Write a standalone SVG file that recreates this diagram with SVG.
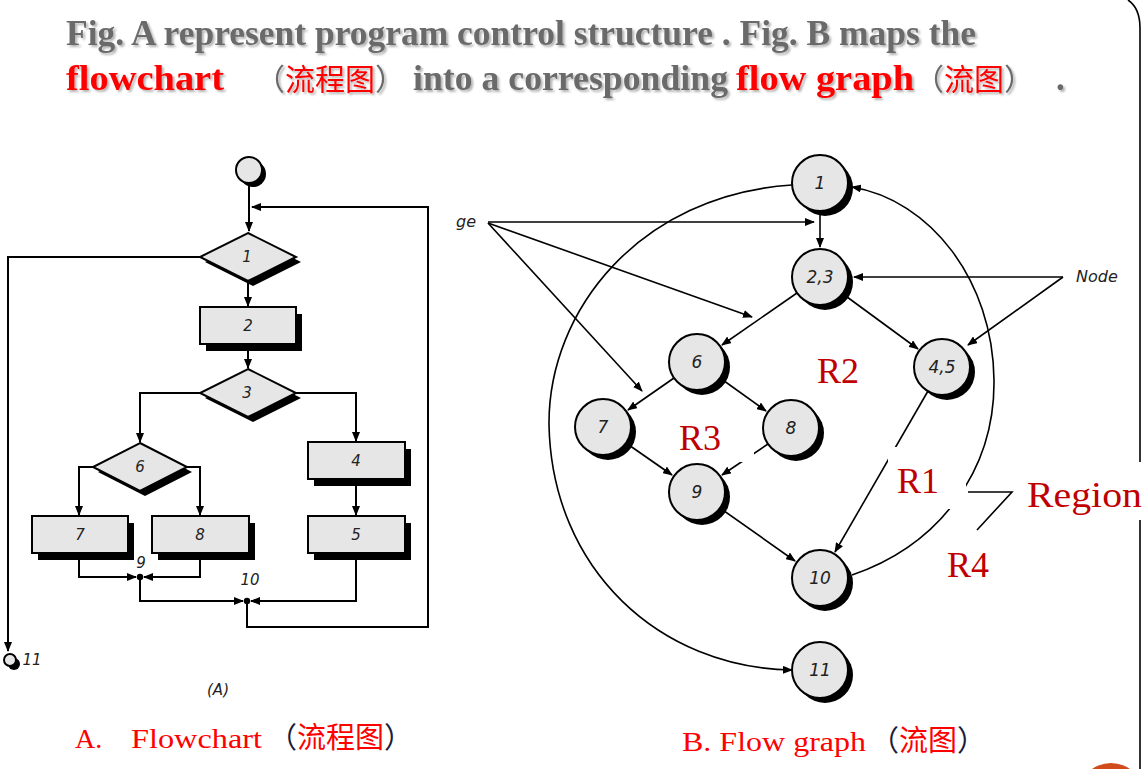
<svg xmlns="http://www.w3.org/2000/svg" width="1144" height="769" viewBox="0 0 1144 769">
<style>
.t{font-family:"Liberation Serif","Noto Sans CJK SC",serif;font-weight:bold;font-size:35px;fill:#6b6b6b}
.red{fill:#ff0000}
.cjk{font-family:"Noto Sans CJK SC",sans-serif;font-size:30px;font-weight:normal}
.ln{fill:none;stroke:#000;stroke-width:2}
.thin{fill:none;stroke:#000;stroke-width:1.6}
.shape{fill:#e6e6e6;stroke:#000;stroke-width:2}
.shd{fill:#000}
.lab{font-family:"DejaVu Sans","Liberation Sans",sans-serif;font-style:italic;font-size:15px;fill:#222;text-anchor:middle}
.gl{font-size:17px}
.rl{font-family:"Liberation Serif",serif;font-size:36px;fill:#c00000}
.cap{font-family:"Liberation Serif",serif;font-size:28px;fill:#ff0000}
.capc{font-family:"Noto Sans CJK SC",sans-serif;font-size:29px;fill:#ff0000}
.bg{fill:#fff}
</style>
<defs>
<marker id="ar" markerUnits="userSpaceOnUse" markerWidth="10" markerHeight="8" refX="9" refY="4" orient="auto">
<path d="M0,0 L10,4 L0,8 z" fill="#000"/>
</marker>
<filter id="sh" x="-5%" y="-20%" width="110%" height="140%">
<feDropShadow dx="2" dy="2" stdDeviation="1" flood-color="#000" flood-opacity="0.3"/>
</filter>
</defs>
<rect width="1144" height="769" fill="#fff"/>

<!-- title -->
<g id="title" filter="url(#sh)">
<text class="t" x="66" y="45" textLength="910" lengthAdjust="spacingAndGlyphs">Fig. A represent program control structure . Fig. B maps the</text>
<text class="t red" x="66" y="90" textLength="158" lengthAdjust="spacingAndGlyphs">flowchart</text>
<text class="t cjk" x="255" y="90"><tspan fill="#6b6b6b">（</tspan><tspan fill="#ff0000">流程图</tspan><tspan fill="#6b6b6b">）</tspan></text>
<text class="t" x="413" y="90" textLength="315" lengthAdjust="spacingAndGlyphs">into a corresponding</text>
<text class="t red" x="736" y="90" textLength="178" lengthAdjust="spacingAndGlyphs">flow graph</text>
<text class="t cjk" x="914" y="90"><tspan fill="#6b6b6b">（</tspan><tspan fill="#ff0000">流图</tspan><tspan fill="#6b6b6b">）</tspan></text>
<text class="t" x="1056" y="90">.</text>
</g>

<!-- frame -->
<path d="M1128,0 Q1140,8 1140,28 V769" fill="none" stroke="#000" stroke-width="1.6"/>
<circle cx="1111" cy="796" r="33" fill="#d24b1a"/>

<!-- flowchart A connectors -->
<g id="fc-connectors">
<path class="ln" d="M249,183 V231" marker-end="url(#ar)"/>
<path class="ln" d="M247,601 V627 H428 V207 H252" marker-end="url(#ar)"/>
<path class="ln" d="M200,257 H8 V651" marker-end="url(#ar)"/>
<path class="ln" d="M248,281 V306" marker-end="url(#ar)"/>
<path class="ln" d="M248,344 V368" marker-end="url(#ar)"/>
<path class="ln" d="M200,393 H140 V442" marker-end="url(#ar)"/>
<path class="ln" d="M296,393 H356 V441" marker-end="url(#ar)"/>
<path class="ln" d="M93,467 H79 V515" marker-end="url(#ar)"/>
<path class="ln" d="M187,467 H200 V515" marker-end="url(#ar)"/>
<path class="ln" d="M356,479 V515" marker-end="url(#ar)"/>
<path class="ln" d="M79,553 V577 H136" marker-end="url(#ar)"/>
<path class="ln" d="M200,553 V577 H144" marker-end="url(#ar)"/>
<path class="ln" d="M140,577 V601 H243" marker-end="url(#ar)"/>
<path class="ln" d="M356,553 V601 H251" marker-end="url(#ar)"/>
<circle cx="140" cy="577" r="3.2" fill="#000"/>
<circle cx="247" cy="601" r="3.2" fill="#000"/>
</g>

<!-- flowchart A nodes -->
<g id="fc-start"><circle class="shd" cx="253" cy="174" r="13"/><circle class="shape" cx="249" cy="170" r="13"/></g>
<g id="fc-1"><polygon class="shd" points="253,238 301,262 253,286 205,262"/><polygon class="shape" points="248,233 296,257 248,281 200,257"/><text class="lab" x="247" y="262">1</text></g>
<g id="fc-2"><rect class="shd" x="206" y="314" width="96" height="37"/><rect class="shape" x="200" y="307" width="96" height="37"/><text class="lab" x="248" y="331">2</text></g>
<g id="fc-3"><polygon class="shd" points="253,374 301,398 253,422 205,398"/><polygon class="shape" points="248,369 296,393 248,417 200,393"/><text class="lab" x="247" y="398">3</text></g>
<g id="fc-6"><polygon class="shd" points="145,448 192,472 145,496 98,472"/><polygon class="shape" points="140,443 187,467 140,491 93,467"/><text class="lab" x="140" y="472">6</text></g>
<g id="fc-4"><rect class="shd" x="314" y="449" width="97" height="37"/><rect class="shape" x="308" y="442" width="97" height="37"/><text class="lab" x="356" y="466">4</text></g>
<g id="fc-5"><rect class="shd" x="314" y="523" width="97" height="37"/><rect class="shape" x="308" y="516" width="97" height="37"/><text class="lab" x="356" y="540">5</text></g>
<g id="fc-7"><rect class="shd" x="38" y="523" width="96" height="37"/><rect class="shape" x="32" y="516" width="96" height="37"/><text class="lab" x="80" y="540">7</text></g>
<g id="fc-8"><rect class="shd" x="158" y="523" width="97" height="37"/><rect class="shape" x="152" y="516" width="97" height="37"/><text class="lab" x="200" y="540">8</text></g>
<g id="fc-9"><text class="lab" x="141" y="568">9</text></g>
<g id="fc-10"><text class="lab" x="250" y="585">10</text></g>
<g id="fc-11"><circle class="shd" cx="14" cy="664" r="6"/><circle class="shape" cx="10" cy="660" r="6"/><text class="lab" x="32" y="665">11</text></g>
<text class="lab" x="218" y="695">(A)</text>

<!-- flow graph B connectors -->
<g id="fg-connectors">
<path class="thin" d="M820,211 V247" marker-end="url(#ar)"/>
<path class="thin" d="M797,293 L722,345" marker-end="url(#ar)"/>
<path class="thin" d="M843,294 L918,349" marker-end="url(#ar)"/>
<path class="thin" d="M674,378 L628,410" marker-end="url(#ar)"/>
<path class="thin" d="M720,378 L766,411" marker-end="url(#ar)"/>
<path class="thin" d="M626,443 L672,475" marker-end="url(#ar)"/>
<path class="thin" d="M768,444 L722,475" marker-end="url(#ar)"/>
<path class="thin" d="M720,508 L795,561" marker-end="url(#ar)"/>
<path class="thin" d="M928,391 L835,552" marker-end="url(#ar)"/>
<path class="thin" d="M792,185 C640,195 548,310 549,425 C552,570 660,668 792,670" marker-end="url(#ar)"/>
<path class="thin" d="M852,575 C940,545 995,470 994,380 C993,280 930,200 852,187" marker-end="url(#ar)"/>
<!-- pointer lines -->
<path class="thin" d="M488,222 H814" marker-end="url(#ar)"/>
<path class="thin" d="M488,223 L752,317" marker-end="url(#ar)"/>
<path class="thin" d="M488,223 L642,391" marker-end="url(#ar)"/>
<path class="thin" d="M1063,277 H854" marker-end="url(#ar)"/>
<path class="thin" d="M1063,277 L968,345" marker-end="url(#ar)"/>
<path class="thin" d="M968,492 H1012 L977,530"/>
</g>

<!-- region labels -->
<g id="regions">
<rect class="bg" x="676" y="410" width="78" height="52"/>
<rect class="bg" x="888" y="447" width="78" height="62"/>
<rect class="bg" x="1018" y="462" width="126" height="58"/>
<text class="rl" x="817" y="383">R2</text>
<text class="rl" x="679" y="450">R3</text>
<text class="rl" x="897" y="493">R1</text>
<text class="rl" x="947" y="577">R4</text>
<text class="rl" x="1027" y="507" textLength="115" lengthAdjust="spacingAndGlyphs">Region</text>
<text class="lab" x="466" y="227" style="font-size:16px">ge</text>
<text class="lab" x="1097" y="282" style="font-size:16px">Node</text>
</g>

<!-- flow graph B nodes -->
<g id="fg-1"><circle class="shd" cx="825" cy="188" r="28"/><circle class="shape" cx="820" cy="183" r="28"/><text class="lab gl" x="820" y="189">1</text></g>
<g id="fg-23"><circle class="shd" cx="825" cy="282" r="28"/><circle class="shape" cx="820" cy="277" r="28"/><text class="lab gl" x="820" y="283">2,3</text></g>
<g id="fg-6"><circle class="shd" cx="702" cy="367" r="28"/><circle class="shape" cx="697" cy="362" r="28"/><text class="lab gl" x="697" y="368">6</text></g>
<g id="fg-7"><circle class="shd" cx="608" cy="432" r="28"/><circle class="shape" cx="603" cy="427" r="28"/><text class="lab gl" x="603" y="433">7</text></g>
<g id="fg-8"><circle class="shd" cx="796" cy="433" r="28"/><circle class="shape" cx="791" cy="428" r="28"/><text class="lab gl" x="791" y="434">8</text></g>
<g id="fg-9"><circle class="shd" cx="702" cy="497" r="28"/><circle class="shape" cx="697" cy="492" r="28"/><text class="lab gl" x="697" y="498">9</text></g>
<g id="fg-45"><circle class="shd" cx="947" cy="372" r="28"/><circle class="shape" cx="942" cy="367" r="28"/><text class="lab gl" x="942" y="373">4,5</text></g>
<g id="fg-10"><circle class="shd" cx="825" cy="583" r="28"/><circle class="shape" cx="820" cy="578" r="28"/><text class="lab gl" x="820" y="584">10</text></g>
<g id="fg-11"><circle class="shd" cx="825" cy="675" r="28"/><circle class="shape" cx="820" cy="670" r="28"/><text class="lab gl" x="820" y="676">11</text></g>

<!-- captions -->
<g id="captions">
<text class="cap" x="75" y="748">A.</text>
<text class="cap" x="131" y="748" textLength="131" lengthAdjust="spacingAndGlyphs">Flowchart</text>
<text class="capc" x="268" y="748"><tspan fill="#1c1c3a">（</tspan>流程图<tspan fill="#1c1c3a">）</tspan></text>
<text class="cap" x="682" y="751" textLength="184" lengthAdjust="spacingAndGlyphs">B. Flow graph</text>
<text class="capc" x="870" y="751"><tspan fill="#1c1c3a">（</tspan>流图<tspan fill="#1c1c3a">）</tspan></text>
</g>
</svg>
